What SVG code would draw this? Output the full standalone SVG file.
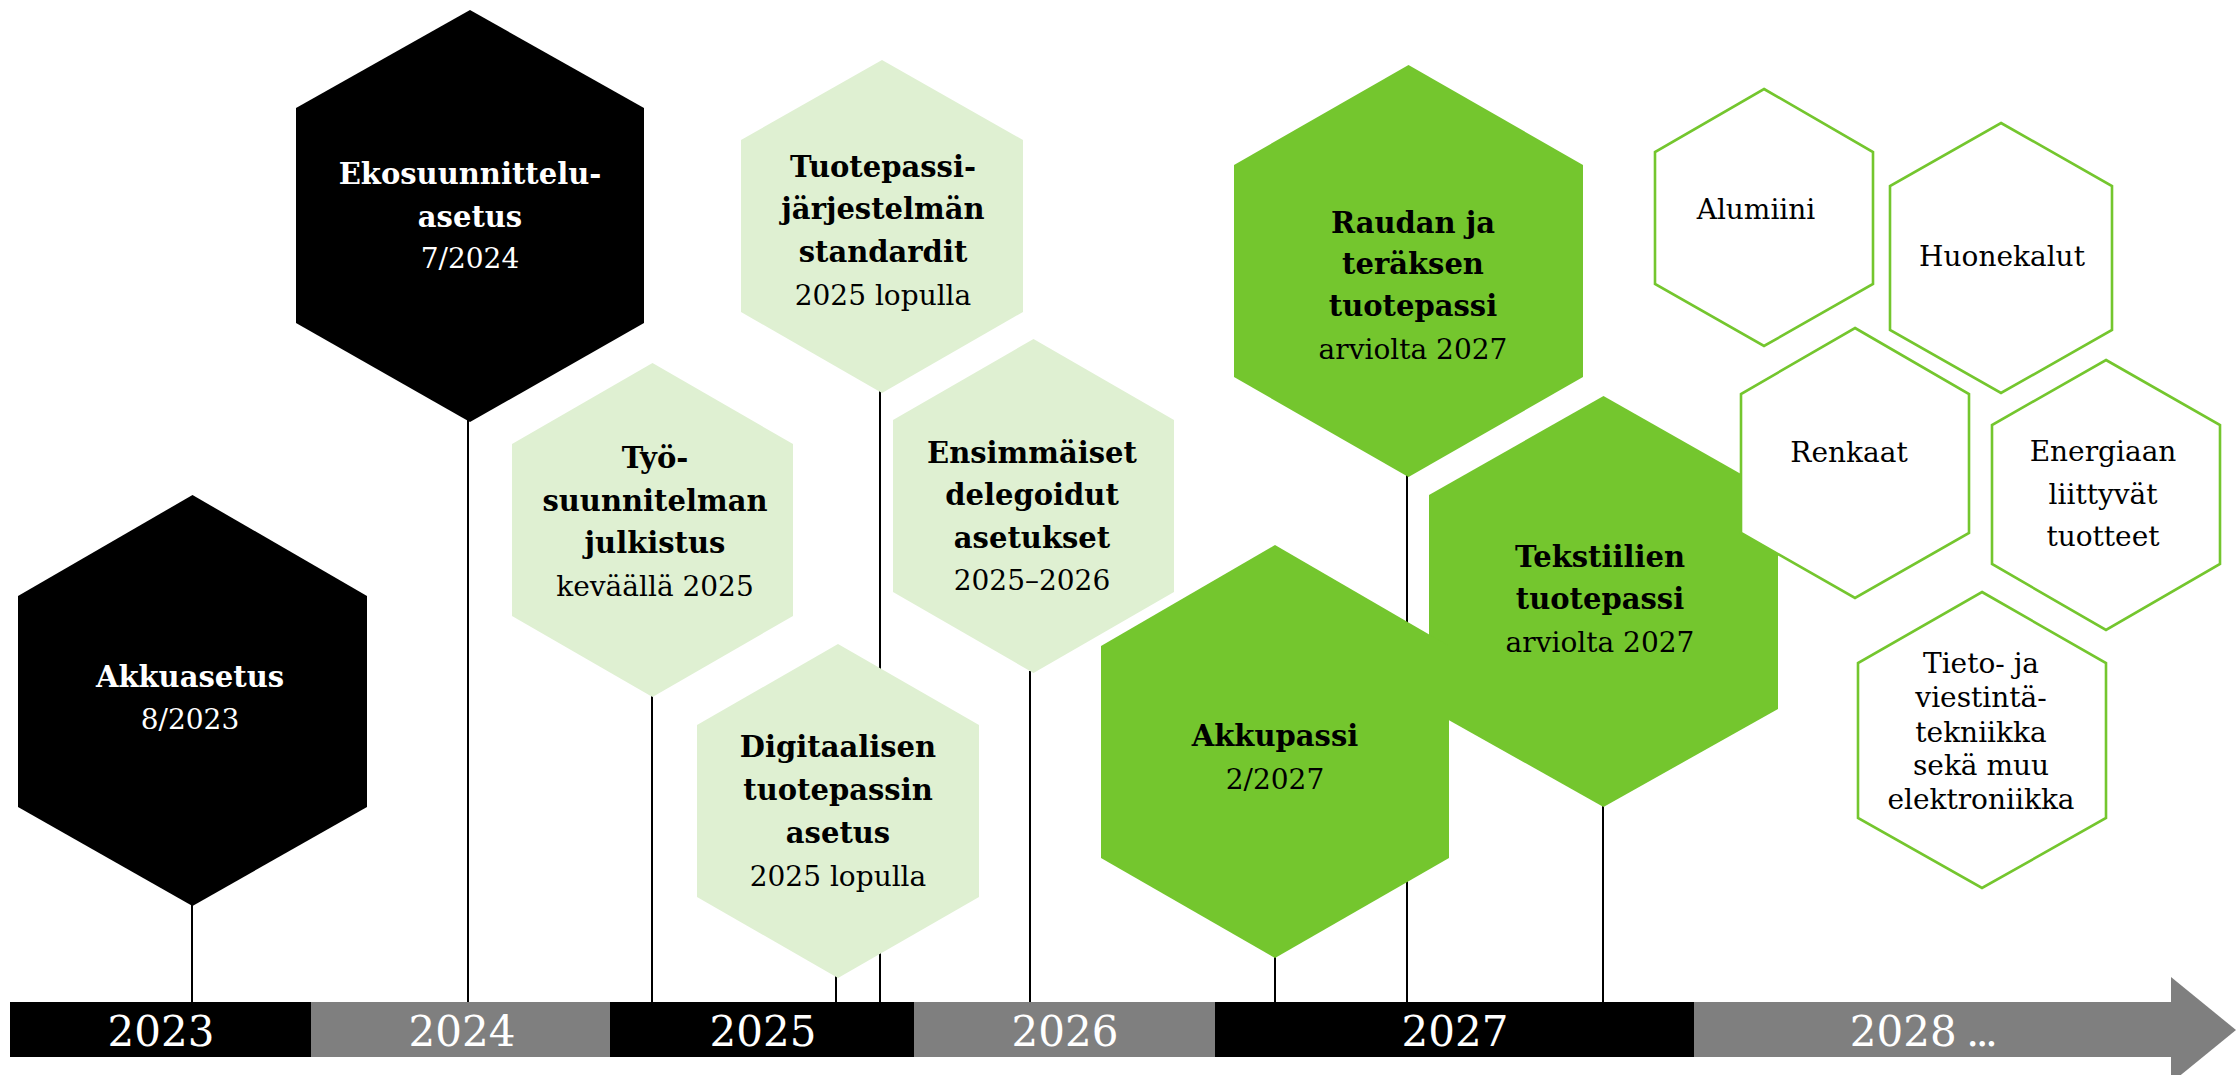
<svg xmlns="http://www.w3.org/2000/svg" width="2236" height="1075" viewBox="0 0 2236 1075">
<style>
text{font-family:"DejaVu Serif","Liberation Serif",serif;font-size:28px;text-anchor:middle}
.b{font-weight:bold;font-size:29px}
.w{fill:#ffffff}
.k{fill:#000000}
.hb{fill:#000000}
.hl{fill:#DFF0D2}
.hg{fill:#74C62E}
.ho{fill:#ffffff;stroke:#74C62E;stroke-width:2.6}
.ln{stroke:#000000;stroke-width:2;fill:none}
.seg-k{fill:#000000}
.seg-g{fill:#7F7F7F}
.yr{font-size:42px;fill:#ffffff}
</style>
<rect width="2236" height="1075" fill="#ffffff"/>
<g id="connectors">
<line class="ln" x1="192" y1="905" x2="192" y2="1002"/>
<line class="ln" x1="468" y1="420" x2="468" y2="1002"/>
<line class="ln" x1="652" y1="695" x2="652" y2="1002"/>
<line class="ln" x1="880" y1="391" x2="880" y2="1002"/>
<line class="ln" x1="1030" y1="671" x2="1030" y2="1002"/>
<line class="ln" x1="836" y1="976" x2="836" y2="1002"/>
<line class="ln" x1="1275" y1="956" x2="1275" y2="1002"/>
<line class="ln" x1="1407" y1="475" x2="1407" y2="1002"/>
<line class="ln" x1="1603" y1="805" x2="1603" y2="1002"/>
</g>
<g id="timeline">
<rect class="seg-k" x="10" y="1002" width="301" height="55"/>
<rect class="seg-g" x="311" y="1002" width="299" height="55"/>
<rect class="seg-k" x="610" y="1002" width="304" height="55"/>
<rect class="seg-g" x="914" y="1002" width="301" height="55"/>
<rect class="seg-k" x="1215" y="1002" width="479" height="55"/>
<rect class="seg-g" x="1694" y="1002" width="478" height="55"/>
<polygon class="seg-g" points="2171,977 2236,1030 2171,1083"/>
<text class="yr" x="161" y="1046">2023</text>
<text class="yr" x="462" y="1046">2024</text>
<text class="yr" x="763" y="1046">2025</text>
<text class="yr" x="1065" y="1046">2026</text>
<text class="yr" x="1455" y="1046">2027</text>
<text class="yr" x="1922" y="1046">2028<tspan letter-spacing="-4"> ...</tspan></text>
</g>
<g id="akkuasetus">
<polygon class="hb" points="192.5,495 367,596 367,807 192.5,906 18,807 18,596"/>
<text class="b w" x="190" y="687">Akkuasetus</text>
<text class="w" x="190" y="729">8/2023</text>
</g>
<g id="ekosuunnittelu">
<polygon class="hb" points="470,10 644,108 644,323 470,422 296,323 296,108"/>
<text class="b w" x="470" y="184">Ekosuunnittelu-</text>
<text class="b w" x="470" y="227">asetus</text>
<text class="w" x="470" y="268">7/2024</text>
</g>
<g id="tyosuunnitelma">
<polygon class="hl" points="652.5,363 793,444 793,616 652.5,697 512,616 512,444"/>
<text class="b k" x="655" y="468">Työ-</text>
<text class="b k" x="655" y="511">suunnitelman</text>
<text class="b k" x="655" y="553">julkistus</text>
<text class="k" x="655" y="596">keväällä 2025</text>
</g>
<g id="tuotepassistandardit">
<polygon class="hl" points="882,60 1023,140 1023,312 882,393 741,312 741,140"/>
<text class="b k" x="883" y="177">Tuotepassi-</text>
<text class="b k" x="883" y="219">järjestelmän</text>
<text class="b k" x="883" y="262">standardit</text>
<text class="k" x="883" y="305">2025 lopulla</text>
</g>
<g id="ensimmaiset">
<polygon class="hl" points="1033.5,339 1174,420 1174,592 1033.5,673 893,592 893,420"/>
<text class="b k" x="1032" y="463">Ensimmäiset</text>
<text class="b k" x="1032" y="505">delegoidut</text>
<text class="b k" x="1032" y="548">asetukset</text>
<text class="k" x="1032" y="590">2025–2026</text>
</g>
<g id="digitaalinen">
<polygon class="hl" points="838,644 979,725 979,897 838,978 697,897 697,725"/>
<text class="b k" x="838" y="757">Digitaalisen</text>
<text class="b k" x="838" y="800">tuotepassin</text>
<text class="b k" x="838" y="843">asetus</text>
<text class="k" x="838" y="886">2025 lopulla</text>
</g>
<g id="raudan">
<polygon class="hg" points="1408.5,65 1583,165 1583,377 1408.5,477 1234,377 1234,165"/>
<text class="b k" x="1413" y="233">Raudan ja</text>
<text class="b k" x="1413" y="274">teräksen</text>
<text class="b k" x="1413" y="316">tuotepassi</text>
<text class="k" x="1413" y="359">arviolta 2027</text>
</g>
<g id="tekstiilien">
<polygon class="hg" points="1603.5,396 1778,495 1778,709 1603.5,807 1429,709 1429,495"/>
<text class="b k" x="1600" y="567">Tekstiilien</text>
<text class="b k" x="1600" y="609">tuotepassi</text>
<text class="k" x="1600" y="652">arviolta 2027</text>
</g>
<g id="akkupassi">
<polygon class="hg" points="1275,545 1449,646 1449,858 1275,958 1101,858 1101,646"/>
<text class="b k" x="1275" y="746">Akkupassi</text>
<text class="k" x="1275" y="789">2/2027</text>
</g>
<g id="alumiini">
<polygon class="ho" points="1764,89 1873,152 1873,284 1764,346 1655,284 1655,152"/>
<text class="k" x="1756" y="219">Alumiini</text>
</g>
<g id="huonekalut">
<polygon class="ho" points="2001,123 2112,186 2112,330 2001,393 1890,330 1890,186"/>
<text class="k" x="2002" y="266">Huonekalut</text>
</g>
<g id="renkaat">
<polygon class="ho" points="1855,328 1969,394 1969,533 1855,598 1741,533 1741,394"/>
<text class="k" x="1849" y="462">Renkaat</text>
</g>
<g id="energiaan">
<polygon class="ho" points="2106,360 2220,425 2220,564 2106,630 1992,564 1992,425"/>
<text class="k" x="2103" y="461">Energiaan</text>
<text class="k" x="2103" y="504">liittyvät</text>
<text class="k" x="2103" y="546">tuotteet</text>
</g>
<g id="tieto">
<polygon class="ho" points="1982,592 2106,663 2106,818 1982,888 1858,818 1858,663"/>
<text class="k" x="1981" y="673">Tieto- ja</text>
<text class="k" x="1981" y="707">viestintä-</text>
<text class="k" x="1981" y="742">tekniikka</text>
<text class="k" x="1981" y="775">sekä muu</text>
<text class="k" x="1981" y="809">elektroniikka</text>
</g>
</svg>
